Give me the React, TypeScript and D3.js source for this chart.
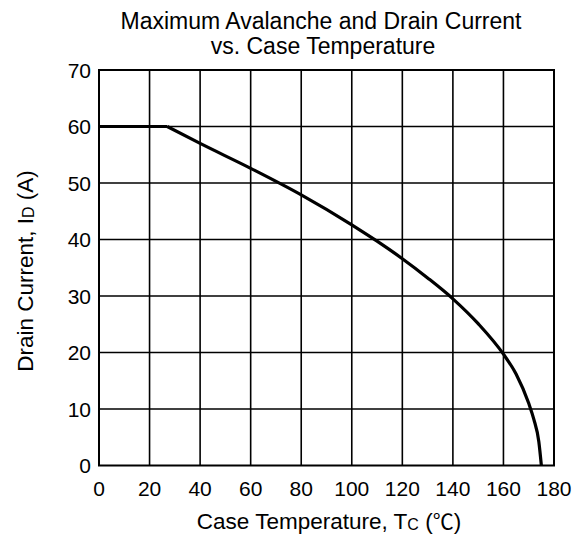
import React from "react";
import * as d3 from "d3";

const xTicks = [0, 20, 40, 60, 80, 100, 120, 140, 160, 180];
const yTicks = [0, 10, 20, 30, 40, 50, 60, 70];
const flatTemp = [0, 27];
const flatCurrent = [60, 60];
const tempC = [27, 40, 60, 80, 100, 110, 120, 130, 140, 150, 160, 165, 170, 172, 174, 175];
const currentA = [60, 57.0, 52.6, 47.9, 42.6, 39.7, 36.6, 33.2, 29.5, 25.1, 19.7, 16.2, 11.0, 8.2, 4.2, 0];

export default function App() {
  const W = 576, H = 538;
  const x = d3.scaleLinear().domain([0, 180]).range([99, 554]);
  const y = d3.scaleLinear().domain([0, 70]).range([465.5, 70]);
  const flatPts = flatTemp.map((t, i) => [t, flatCurrent[i]] as [number, number]);
  const pts = tempC.map((t, i) => [t, currentA[i]] as [number, number]);
  const lineLin = d3.line<[number, number]>().x(d => x(d[0])).y(d => y(d[1]));
  const line = d3.line<[number, number]>().x(d => x(d[0])).y(d => y(d[1])).curve(d3.curveMonotoneX);
  const font = "'Liberation Sans', Arial, sans-serif";
  return (
    <svg width={W} height={H} style={{ position: "absolute", left: 0, top: 0 }} fontFamily={font}>
      <rect width={W} height={H} fill="#fff" />
      <text x={321} y={29} textAnchor="middle" fontSize={23}>Maximum Avalanche and Drain Current</text>
      <text x={323} y={54} textAnchor="middle" fontSize={23}>vs. Case Temperature</text>
      {xTicks.slice(1, -1).map(t => (
        <line key={"gx" + t} x1={x(t)} x2={x(t)} y1={y(0)} y2={y(70)} stroke="#000" strokeWidth={1.6} />
      ))}
      {yTicks.slice(1, -1).map(t => (
        <line key={"gy" + t} x1={x(0)} x2={x(180)} y1={y(t)} y2={y(t)} stroke="#000" strokeWidth={1.6} />
      ))}
      <rect x={x(0)} y={y(70)} width={x(180) - x(0)} height={y(0) - y(70)} fill="none" stroke="#000" strokeWidth={2} />
      <path d={lineLin(flatPts) || ""} fill="none" stroke="#000" strokeWidth={3.2} />
      <path d={line(pts) || ""} fill="none" stroke="#000" strokeWidth={3.2} strokeLinejoin="round" />
      {yTicks.map(t => (
        <text key={"ty" + t} x={91} y={y(t) + 7.5} textAnchor="end" fontSize={21}>{t}</text>
      ))}
      {xTicks.map(t => (
        <text key={"tx" + t} x={x(t)} y={496} textAnchor="middle" fontSize={21}>{t}</text>
      ))}
      <text x={329} y={529} textAnchor="middle" fontSize={22.5}>
        Case Temperature, T<tspan fontSize={16} dy={1}>C</tspan>
        <tspan dy={-1}> (</tspan>
        <tspan fontFamily="'Noto Sans CJK SC', sans-serif" fontSize={21}>℃</tspan>
        <tspan>)</tspan>
      </text>
      <text transform="translate(33,271) rotate(-90)" textAnchor="middle" fontSize={22.5}>
        Drain Current, I<tspan fontSize={16} dy={1}>D</tspan><tspan dy={-1}> (A)</tspan>
      </text>
    </svg>
  );
}
